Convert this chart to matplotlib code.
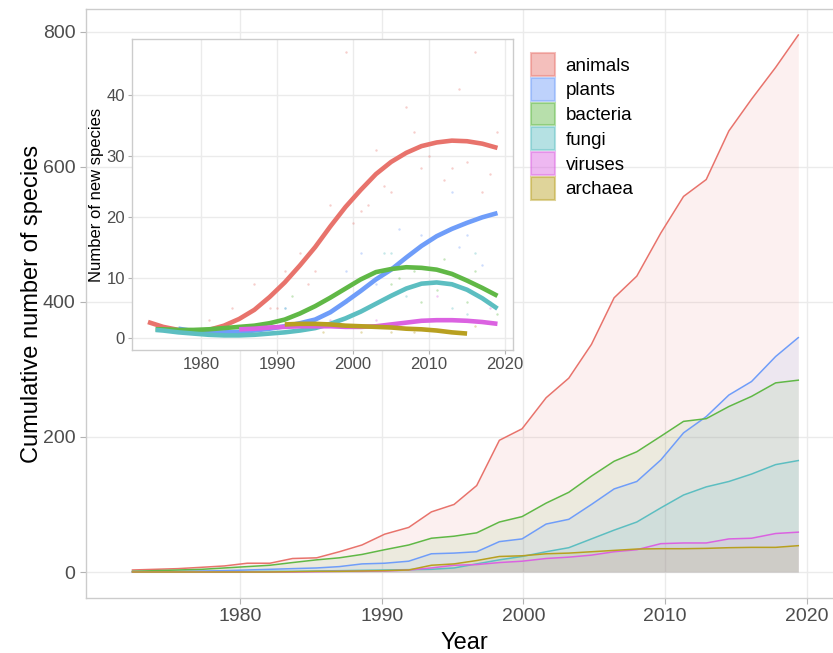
import matplotlib
matplotlib.use("Agg")
import matplotlib.pyplot as plt
from matplotlib.patches import Patch

plt.rcParams['font.family'] = ['Liberation Sans', 'DejaVu Sans']

groups = ["animals", "plants", "bacteria", "fungi", "viruses", "archaea"]
colors = {
    "animals": "#E8736C",
    "plants": "#6F9DF9",
    "bacteria": "#60B846",
    "fungi": "#5CBEC1",
    "viruses": "#DB62E1",
    "archaea": "#B8A020",
}

# cumulative counts
years_cum = [1972.4, 1974.0, 1975.6, 1977.3, 1978.9, 1980.5, 1982.1, 1983.7, 1985.4, 1987.0,
             1988.6, 1990.2, 1991.9, 1993.5, 1995.1, 1996.7, 1998.3, 1999.9, 2001.6, 2003.2,
             2004.8, 2006.4, 2008.0, 2009.7, 2011.3, 2012.9, 2014.5, 2016.1, 2017.8, 2019.4]
animals_cum = [3, 4, 5, 7, 9, 13, 13, 20, 21, 30, 40, 56, 66, 89, 100, 128, 195, 212, 258, 287,
               337, 406, 438, 502, 556, 581, 653, 700, 747, 795]
plants_cum = [0.5, 1, 1, 1.5, 2, 3, 4, 5, 6, 8, 12, 13, 16, 27, 28, 30, 45, 49, 71, 78,
              100, 123, 134, 166, 206, 230, 262, 282, 319, 347]
bacteria_cum = [1, 2, 3, 4, 6, 8, 10, 14, 18, 21, 26, 33, 40, 50, 53, 58, 74, 82, 102, 118,
                142, 164, 178, 201, 223, 227, 245, 260, 280, 284]
fungi_cum = [0, 0, 0, 0, 0, 0.5, 1, 1, 1.5, 2, 2.5, 3, 3.5, 4, 6, 12, 18, 23, 30, 36,
             49, 62, 74, 95, 114, 126, 134, 145, 159, 165]
viruses_cum = [0, 0, 0, 0, 0, 0, 0, 0, 0.5, 1, 1, 1.5, 3, 6, 10, 11, 14, 16, 20, 22,
               25, 30, 33, 42, 43, 43, 49, 50, 57, 59]
archaea_cum = [0, 0, 0, 0, 0, 0, 0, 0.5, 1, 1, 1.5, 2, 3, 10, 12, 17, 23, 24, 27, 28,
               30, 32, 34, 34.5, 34.5, 35, 36, 36.5, 36.5, 39]
cum = {"animals": animals_cum, "plants": plants_cum, "bacteria": bacteria_cum,
       "fungi": fungi_cum, "viruses": viruses_cum, "archaea": archaea_cum}

# smoothed yearly new species (inset)
animals_sm_years = [1973, 1975, 1977, 1979, 1981, 1983, 1985, 1987, 1989, 1991, 1993, 1995,
                    1997, 1999, 2001, 2003, 2005, 2007, 2009, 2011, 2013, 2015, 2017, 2019]
animals_sm = [2.7, 1.9, 1.4, 1.2, 1.4, 2.1, 3.2, 4.7, 6.8, 9.2, 12.0, 15.0,
              18.4, 21.6, 24.4, 27.0, 29.0, 30.5, 31.6, 32.2, 32.5, 32.4, 32.0, 31.3]
plants_sm_years = [1977, 1979, 1981, 1983, 1985, 1987, 1989, 1991, 1993, 1995, 1997, 1999,
                   2001, 2003, 2005, 2007, 2009, 2011, 2013, 2015, 2017, 2019]
plants_sm = [1.6, 1.2, 1.0, 1.0, 1.1, 1.3, 1.6, 2.0, 2.5, 3.1, 4.3, 6.0,
             7.8, 9.7, 11.3, 13.3, 15.2, 16.8, 18.0, 19.0, 19.9, 20.6]
bacteria_sm_years = [1974, 1975, 1977, 1979, 1981, 1983, 1985, 1987, 1989, 1991, 1993, 1995,
                     1997, 1999, 2001, 2003, 2005, 2007, 2009, 2011, 2013, 2015, 2017, 2019]
bacteria_sm = [1.5, 1.5, 1.4, 1.4, 1.5, 1.7, 1.9, 2.1, 2.5, 3.1, 4.1, 5.3,
               6.7, 8.2, 9.7, 10.9, 11.4, 11.7, 11.6, 11.3, 10.6, 9.5, 8.3, 7.0]
fungi_sm_years = [1974, 1975, 1977, 1979, 1981, 1983, 1985, 1987, 1989, 1991, 1993, 1995,
                  1997, 1999, 2001, 2003, 2005, 2007, 2009, 2011, 2013, 2015, 2017, 2019]
fungi_sm = [1.4, 1.3, 1.0, 0.8, 0.6, 0.5, 0.5, 0.6, 0.8, 1.0, 1.3, 1.7,
            2.4, 3.3, 4.4, 5.7, 7.0, 8.2, 9.0, 9.2, 8.9, 8.0, 6.6, 4.9]
viruses_sm_years = [1985, 1987, 1989, 1991, 1993, 1995, 1997, 1999, 2001, 2003, 2005, 2007,
                    2009, 2011, 2013, 2015, 2017, 2019]
viruses_sm = [1.5, 1.6, 1.8, 1.9, 2.0, 2.0, 2.0, 1.9, 1.9, 2.0, 2.3, 2.6,
              2.9, 3.0, 3.0, 2.9, 2.7, 2.4]
archaea_sm_years = [1991, 1993, 1995, 1997, 1999, 2001, 2003, 2005, 2007, 2009, 2011, 2013, 2015]
archaea_sm = [2.3, 2.4, 2.4, 2.3, 2.1, 2.0, 1.9, 1.8, 1.6, 1.5, 1.3, 1.0, 0.8]
smooth = {
    "animals": (animals_sm_years, animals_sm),
    "plants": (plants_sm_years, plants_sm),
    "bacteria": (bacteria_sm_years, bacteria_sm),
    "fungi": (fungi_sm_years, fungi_sm),
    "viruses": (viruses_sm_years, viruses_sm),
    "archaea": (archaea_sm_years, archaea_sm),
}

# raw yearly counts (inset points)
animals_pt_years = [1999, 2016, 2014, 2007, 2008, 2019, 2003, 2010, 2009, 2013, 2015, 2018, 2012,
                    2004, 2005, 2017, 1997, 2002, 2001, 2000, 1993, 1995, 1987, 1991, 1989,
                    1984, 1981, 1990, 1994]
animals_pt = [47, 47, 41, 38, 34, 34, 31, 30, 28, 28, 29, 27, 26,
              25, 24, 24, 22, 22, 21, 19, 14, 11, 9, 11, 5,
              5, 3, 5, 9]
plants_pt_years = [2013, 2006, 2001, 2015, 2017, 2009, 1999, 2014, 2003, 1997, 1991]
plants_pt = [24, 18, 14, 17, 12, 17, 11, 15, 9, 7, 5]
bacteria_pt_years = [2012, 2008, 2003, 2005, 2011, 2009, 2019, 2006, 2015, 1992, 1999, 2016]
bacteria_pt = [13, 11, 11, 9, 8, 6, 4, 10, 6, 7, 6, 11]
fungi_pt_years = [2013, 2004, 2005, 2016, 2007, 1991, 2015, 2018]
fungi_pt = [5, 14, 14, 14, 7, 5, 4, 6]
viruses_pt_years = [2011, 2018, 2003, 1997]
viruses_pt = [7, 5, 3, 3]
archaea_pt_years = [2005, 2008, 1996, 2001, 2016]
archaea_pt = [1, 1, 1, 1, 2]
points = {
    "animals": (animals_pt_years, animals_pt),
    "plants": (plants_pt_years, plants_pt),
    "bacteria": (bacteria_pt_years, bacteria_pt),
    "fungi": (fungi_pt_years, fungi_pt),
    "viruses": (viruses_pt_years, viruses_pt),
    "archaea": (archaea_pt_years, archaea_pt),
}

GRID = "#EBEBEB"
BORDER = "#CCCCCC"
TICKLAB = "#4D4D4D"

fig = plt.figure(figsize=(8.33, 6.53), dpi=100)

# main cumulative panel
ax = fig.add_axes([0.1029, 0.0842, 0.909, 0.9015])
for g in groups:
    ax.fill_between(years_cum, 0, cum[g], color=colors[g], alpha=0.1, linewidth=0, zorder=2)
    ax.plot(years_cum, cum[g], color=colors[g], lw=1.1, zorder=3)
ax.set_xlim(1969.1, 2022.55)
ax.set_ylim(-38.5, 833)
ax.set_xticks([1980, 1990, 2000, 2010, 2020])
ax.set_yticks([0, 200, 400, 600, 800])
ax.grid(True, color=GRID, lw=1.0, zorder=0)
ax.set_axisbelow(True)
for s in ax.spines.values():
    s.set_color(BORDER)
    s.set_linewidth(1.0)
ax.tick_params(axis="both", colors="#B3B3B3", labelcolor=TICKLAB, labelsize=14, length=4, width=0.8)
ax.set_xlabel("Year", fontsize=17, labelpad=5)
ax.set_ylabel("Cumulative number of species", fontsize=17, labelpad=0)

handles = [Patch(facecolor=colors[g], edgecolor=colors[g], alpha=0.45, lw=1.5, label=g) for g in groups]
leg = fig.legend(handles=handles, loc="upper left", bbox_to_anchor=(531 / 833, 1 - 53 / 653),
                 frameon=False, fontsize=13.5, handlelength=1.3, handleheight=1.5,
                 handletextpad=0.55, labelspacing=0.1, borderaxespad=0, borderpad=0)

# inset: yearly new species
axi = fig.add_axes([0.1585, 0.464, 0.4574, 0.4763])
axi.set_facecolor("white")
for g in groups:
    px, py = points[g]
    axi.scatter(px, py, s=3, color=colors[g], alpha=0.35, linewidths=0, zorder=2)
for g in groups:
    sx, sy = smooth[g]
    axi.plot(sx, sy, color=colors[g], lw=3.3, solid_capstyle="butt", solid_joinstyle="round", zorder=3)
axi.set_xlim(1970.9, 2021.05)
axi.set_ylim(-1.9, 49.2)
axi.set_xticks([1980, 1990, 2000, 2010, 2020])
axi.set_yticks([0, 10, 20, 30, 40])
axi.grid(True, color=GRID, lw=1.0, zorder=0)
axi.set_axisbelow(True)
for s in axi.spines.values():
    s.set_color(BORDER)
    s.set_linewidth(1.0)
axi.tick_params(axis="both", colors="#B3B3B3", labelcolor=TICKLAB, labelsize=12, length=3, width=0.8, pad=2)
axi.set_ylabel("Number of new species", fontsize=12, labelpad=2)

fig.savefig("out.png", dpi=100)
